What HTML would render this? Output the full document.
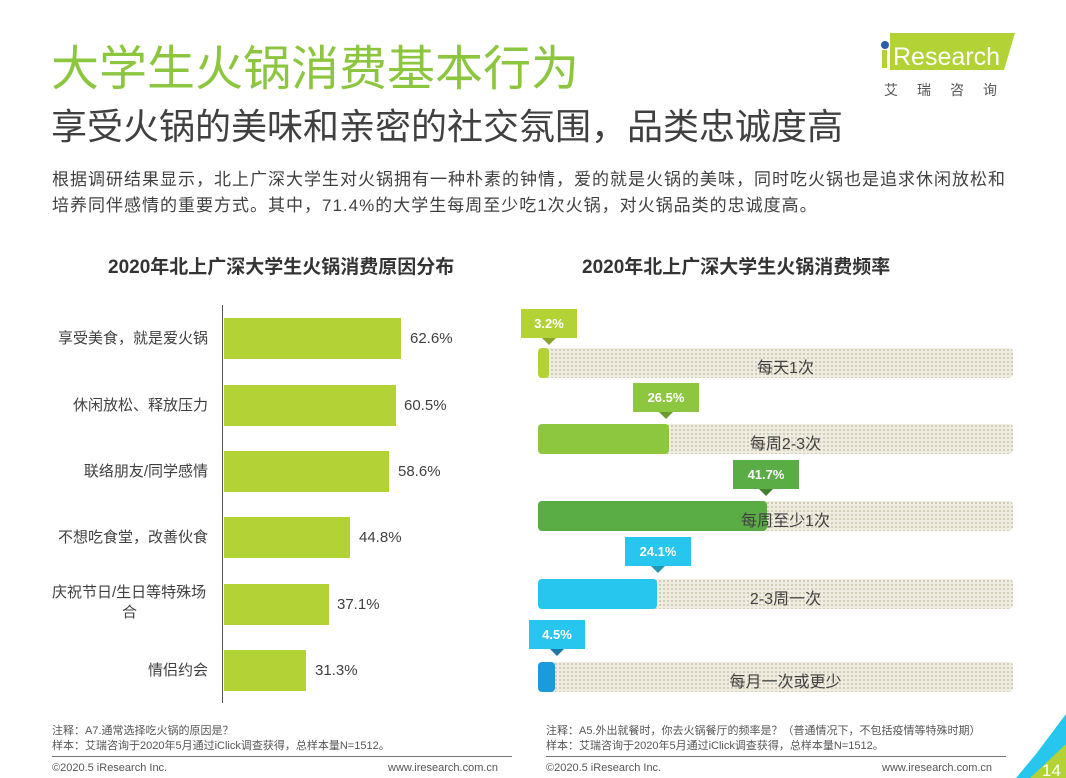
<!DOCTYPE html>
<html><head><meta charset="utf-8"><style>
body{margin:0;width:1066px;height:778px;position:relative;overflow:hidden;background:#fff;font-family:"Liberation Sans","Noto Sans CJK SC",sans-serif;color:#404040}
.a{position:absolute;white-space:nowrap}
.bar{position:absolute;left:224px;height:41px;background:#b2d235}
.lab{position:absolute;right:858px;font-size:15px;color:#404040;text-align:right;line-height:20px}
.val{position:absolute;font-size:15px;color:#404040}
.trk{position:absolute;left:538px;width:475px;height:30px;border-radius:4px;background-color:#efece2;background-image:radial-gradient(circle,#cfc8b0 0.9px,transparent 1.2px);background-size:4px 4px}
.fill{position:absolute;left:0;top:0;height:30px;border-radius:4px}
.tl{position:absolute;left:10px;width:475px;text-align:center;top:6px;font-size:16px;color:#404040}
.tag{position:absolute;height:29px;color:#fff;font-weight:bold;font-size:13px;text-align:center;line-height:29px}
.tag:after{content:"";position:absolute;left:50%;margin-left:-7px;top:29px;border-left:7px solid transparent;border-right:7px solid transparent;border-top:7px solid var(--d)}
</style></head><body>
<div class="a" style="left:51px;top:38px;font-size:48px;color:#8cc63f;line-height:64px">大学生火锅消费基本行为</div>
<div class="a" style="left:51px;top:102px;font-size:36px;color:#404040;line-height:50px">享受火锅的美味和亲密的社交氛围，品类忠诚度高</div>
<div class="a" style="left:52px;top:167px;font-size:17px;letter-spacing:1px;line-height:26px;color:#404040">根据调研结果显示，北上广深大学生对火锅拥有一种朴素的钟情，爱的就是火锅的美味，同时吃火锅也是追求休闲放松和<br>培养同伴感情的重要方式。其中，71.4%的大学生每周至少吃1次火锅，对火锅品类的忠诚度高。</div>
<!-- logo -->
<svg class="a" style="left:880px;top:30px" width="140" height="42"><polygon points="10,3 135,3 124,40 10,40" fill="#b2d235"/><circle cx="5" cy="15" r="4" fill="#2a5da8"/><rect x="2" y="20" width="5" height="18" fill="#b2d235"/><text x="13" y="35" font-family="Liberation Sans" font-size="25" fill="#fff">Research</text></svg>
<div class="a" style="left:884px;top:80px;font-size:14px;letter-spacing:19px;color:#555">艾瑞咨询</div>
<!-- left chart -->
<div class="a" style="left:108px;top:252px;font-size:19px;font-weight:bold;color:#333">2020年北上广深大学生火锅消费原因分布</div>
<div class="a" style="left:222px;top:305px;width:1px;height:398px;background:#555"></div>
<div class="bar" style="top:318px;width:177px"></div><div class="val" style="left:410px;top:330px">62.6%</div><div class="lab" style="top:329px">享受美食，就是爱火锅</div>
<div class="bar" style="top:385px;width:172px"></div><div class="val" style="left:404px;top:397px">60.5%</div><div class="lab" style="top:396px">休闲放松、释放压力</div>
<div class="bar" style="top:451px;width:165px"></div><div class="val" style="left:398px;top:463px">58.6%</div><div class="lab" style="top:462px">联络朋友/同学感情</div>
<div class="bar" style="top:517px;width:126px"></div><div class="val" style="left:359px;top:529px">44.8%</div><div class="lab" style="top:528px">不想吃食堂，改善伙食</div>
<div class="bar" style="top:584px;width:105px"></div><div class="val" style="left:337px;top:596px">37.1%</div><div class="lab" style="top:583px;text-align:left;left:52px;right:auto">庆祝节日/生日等特殊场<br><span style="padding-left:70px">合</span></div>
<div class="bar" style="top:650px;width:82px"></div><div class="val" style="left:315px;top:662px">31.3%</div><div class="lab" style="top:661px">情侣约会</div>
<!-- right chart -->
<div class="a" style="left:582px;top:252px;font-size:19px;font-weight:bold;color:#333">2020年北上广深大学生火锅消费频率</div>
<div class="trk" style="top:348px"><div class="fill" style="width:11px;background:#b2d235"></div><div class="tl">每天1次</div></div>
<div class="trk" style="top:424px"><div class="fill" style="width:131px;background:#8dc63f"></div><div class="tl">每周2-3次</div></div>
<div class="trk" style="top:501px"><div class="fill" style="width:229px;background:#5aac44"></div><div class="tl">每周至少1次</div></div>
<div class="trk" style="top:579px"><div class="fill" style="width:119px;background:#26c6ee"></div><div class="tl">2-3周一次</div></div>
<div class="trk" style="top:662px"><div class="fill" style="width:17px;background:#1d9ad9"></div><div class="tl">每月一次或更少</div></div>
<div class="tag" style="left:521px;top:309px;width:56px;background:#b2d235;--d:#8aa32a">3.2%</div>
<div class="tag" style="left:633px;top:383px;width:66px;background:#8dc63f;--d:#6b9a30">26.5%</div>
<div class="tag" style="left:733px;top:460px;width:66px;background:#5aac44;--d:#447f34">41.7%</div>
<div class="tag" style="left:625px;top:537px;width:66px;background:#26c6ee;--d:#1d98b8">24.1%</div>
<div class="tag" style="left:529px;top:620px;width:56px;background:#26c6ee;--d:#1a78a8">4.5%</div>
<!-- footer -->
<div class="a" style="left:52px;top:724px;font-size:11px;line-height:15px;color:#555">注释：A7.通常选择吃火锅的原因是？<br>样本：艾瑞咨询于2020年5月通过iClick调查获得，总样本量N=1512。</div>
<div class="a" style="left:546px;top:724px;font-size:11px;line-height:15px;color:#555">注释：A5.外出就餐时，你去火锅餐厅的频率是？（普通情况下，不包括疫情等特殊时期）<br>样本：艾瑞咨询于2020年5月通过iClick调查获得，总样本量N=1512。</div>
<div class="a" style="left:52px;top:756px;width:460px;height:1px;background:#777"></div>
<div class="a" style="left:546px;top:756px;width:460px;height:1px;background:#777"></div>
<div class="a" style="left:52px;top:762px;font-size:11px;color:#555">©2020.5 iResearch Inc.</div>
<div class="a" style="left:388px;top:762px;font-size:11px;color:#555">www.iresearch.com.cn</div>
<div class="a" style="left:546px;top:762px;font-size:11px;color:#555">©2020.5 iResearch Inc.</div>
<div class="a" style="left:882px;top:762px;font-size:11px;color:#555">www.iresearch.com.cn</div>
<svg class="a" style="left:1016px;top:714px" width="50" height="64"><polygon points="50,0 50,64 0,64 20,40" fill="#26c6ee"/><polygon points="50,30 50,64 14,64" fill="#b2d235"/><text x="26" y="62" font-family="Liberation Sans" font-size="17" fill="#fff">14</text></svg>
</body></html>
